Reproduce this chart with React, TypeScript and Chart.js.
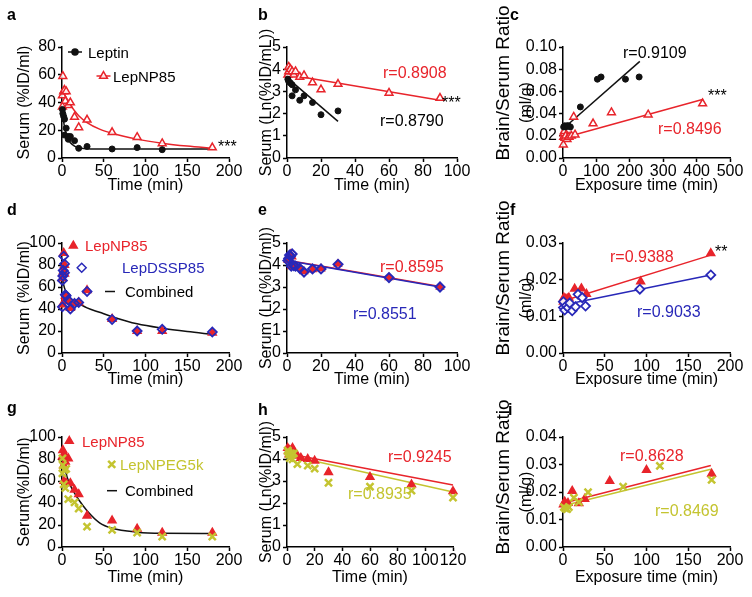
import React, { useEffect, useRef } from 'react';
import { Chart, registerables } from 'chart.js';
Chart.register(...registerables);

type P = [number, number];

const FONT = '"Liberation Sans", Arial, Helvetica, sans-serif';
const RED = '#e8242b';
const BLUE = '#2828b8';
const YEL = '#c4c430';
const BLK = '#111111';

// ---------- a ----------
const aLeptin: P[] = [[0.5,35],[1,32],[2,30],[3,28],[3,16.5],[5,21.5],[7.5,15.5],[7.5,13.5],[10,15.5],[15,12.5],[20,7],[30,8.3],[60,6.5],[90,7.5],[120,6]];
const aLepNP85: P[] = [[0.5,45],[1,59],[0.5,37],[2,48],[3,49],[4,41],[5,48],[7.5,38],[10,40],[15,29.5],[20,22],[30,27.5],[60,18.5],[90,15],[120,10.5],[180,7.5]];
const aLeptinFit: P[] = [[0,36],[1,30.5],[2,26],[3,22.5],[4,19.5],[6,15.5],[8,12.8],[10,11],[15,8.6],[20,7.4],[30,6.7],[45,6.5],[60,6.4],[120,6.4],[180,6.4]];
const aLepNP85Fit: P[] = [[0,50],[2,47],[5,43.5],[10,38.5],[15,34],[20,30.5],[30,25.5],[45,20.8],[60,17.8],[90,13.6],[120,10.7],[150,8.6],[180,7]];

// ---------- b ----------
const bLeptin: P[] = [[0.5,3.55],[1,3.45],[2,3.38],[3,3.3],[3,2.8],[5,3.07],[7.5,2.6],[10,2.8],[15,2.5],[20,1.95],[30,2.12]];
const bLepNP85: P[] = [[0.5,3.75],[1,4.1],[1,3.9],[2,4.0],[3,3.9],[4,3.75],[5,3.9],[7.5,3.65],[10,3.72],[15,3.4],[20,3.08],[30,3.33],[60,2.93],[90,2.7]];
const bLeptinFit: P[] = [[0,3.62],[30,1.65]];
const bLepNP85Fit: P[] = [[0,3.76],[90,2.6]];

// ---------- c ----------
const cLeptin: P[] = [[2,0.028],[5,0.029],[8,0.028],[12,0.029],[16,0.029],[22,0.028],[52,0.046],[103,0.071],[114,0.073],[187,0.071],[228,0.073]];
const cLepNP85: P[] = [[1,0.012],[2,0.019],[3,0.022],[4,0.024],[6,0.018],[8,0.020],[12,0.017],[18,0.019],[25,0.020],[32,0.037],[36,0.021],[90,0.031],[145,0.041],[255,0.039],[418,0.049]];
const cLeptinFit: P[] = [[3,0.027],[230,0.087]];
const cLepNP85Fit: P[] = [[0,0.018],[420,0.053]];

// ---------- d ----------
const dLepNP85: P[] = [[0.5,68],[0.5,44],[1,72],[1.5,74],[2,91],[3,80],[3,72],[4,52],[5,51],[7.5,47],[10,41],[15,45],[20,46],[30,57],[60,31],[90,20],[120,20],[180,18.5]];
const dLepDSSP85: P[] = [[0.5,66],[0.5,42],[1,70],[1.5,75],[2,88],[3,81],[3,73],[4,53],[5,52],[7.5,48],[10,40],[15,45],[20,46],[30,56],[60,30.5],[90,20],[120,21.5],[180,19]];
const dCombinedFit: P[] = [[0,70],[1,66],[2,62],[4,57],[6,54],[10,50],[15,47],[20,45],[30,41],[45,37],[60,33],[90,26.5],[120,22.5],[150,19.5],[180,17]];

// ---------- e ----------
const eLepNP85: P[] = [[0.5,4.22],[1,4.28],[1.5,4.42],[2,4.5],[3,4.38],[2.5,3.93],[4,3.95],[5,3.93],[7.5,3.85],[10,3.7],[15,3.8],[20,3.83],[30,4.04],[60,3.43],[90,3.0]];
const eLepDSSP85: P[] = [[0.5,4.2],[1,4.3],[1.5,4.45],[2,4.4],[3,4.5],[2.5,3.95],[4,3.97],[5,3.95],[7.5,3.85],[10,3.68],[15,3.82],[20,3.82],[30,4.03],[60,3.43],[90,3.0]];
const eLepNP85Fit: P[] = [[0,4.22],[90,3.02]];
const eLepDSSP85Fit: P[] = [[0,4.2],[90,3.0]];

// ---------- f ----------
const fLepNP85: P[] = [[0.5,0.014],[1,0.0151],[3,0.0147],[5,0.0148],[7,0.0151],[14,0.0175],[22,0.0176],[28,0.0161],[93,0.0195],[177,0.0272]];
const fLepDSSP85: P[] = [[0.5,0.0124],[0.5,0.014],[2,0.0117],[4,0.0129],[6,0.0124],[8,0.0136],[11,0.0115],[15,0.0126],[18,0.016],[23,0.0151],[27,0.0128],[92,0.0174],[177,0.0213]];
const fLepNP85Fit: P[] = [[0,0.0142],[177,0.0267]];
const fLepDSSP85Fit: P[] = [[0,0.0131],[177,0.0213]];

// ---------- g ----------
const gLepNP85: P[] = [[0.5,82],[1,88],[2,74],[3,84],[4,77.5],[2.5,60],[5,58],[7.5,80.5],[10,58],[15,52],[20,48],[30,28.5],[60,24],[90,16.5],[120,13],[180,13]];
const gLepNPEG5k: P[] = [[0.5,80.5],[1,74.5],[0.5,67],[2,57],[3,70],[4,53.5],[5,71],[7.5,43.5],[15,40.5],[20,35],[30,18.5],[60,15.5],[90,13],[120,9.5],[180,9.5]];
const gCombinedFit: P[] = [[0,86],[2,77],[4,70],[6,64],[10,56],[15,49],[20,43],[30,33],[45,22],[60,17],[90,13.5],[120,12.5],[180,12.3]];

// ---------- h ----------
const hLepNP85: P[] = [[0.5,4.5],[1,4.35],[1.5,4.2],[2,4.4],[3,4.25],[4,4.5],[5,4.35],[7.5,4.15],[10,4.05],[15,4.0],[20,3.92],[30,3.4],[60,3.18],[90,2.84],[120,2.53]];
const hLepNPEG5k: P[] = [[0.5,4.39],[1,4.31],[1.5,4.2],[2,4.04],[3,4.25],[4,3.98],[5,4.26],[7.5,3.77],[15,3.7],[20,3.56],[30,2.92],[60,2.74],[90,2.56],[120,2.25]];
const hLepNP85Fit: P[] = [[0,4.25],[120,2.82]];
const hLepNPEG5kFit: P[] = [[0,4.18],[120,2.5]];

// ---------- i ----------
const iLepNP85: P[] = [[0.5,0.0155],[2,0.0165],[4,0.015],[6,0.016],[11,0.0204],[19,0.0159],[26,0.0175],[56,0.024],[100,0.028],[178,0.0266]];
const iLepNPEG5k: P[] = [[1,0.0145],[3,0.014],[5,0.0138],[7,0.0145],[13,0.0179],[19,0.0163],[30,0.0199],[72,0.0219],[116,0.0295],[178,0.0244]];
const iLepNP85Fit: P[] = [[0,0.0159],[177,0.0296]];
const iLepNPEG5kFit: P[] = [[0,0.015],[177,0.0283]];

const pts = (d: P[]) => d.map(([x, y]) => ({ x, y }));

function sc(data: P[], style: string, color: string, fill: string, r: number, bw: number, order: number) {
  return {
    data: pts(data), showLine: false, pointStyle: style, pointRadius: r, pointHoverRadius: r,
    pointBorderColor: color, pointBackgroundColor: fill, pointBorderWidth: bw,
    borderColor: color, backgroundColor: fill, order, clip: false,
  };
}
function ln(data: P[], color: string, order: number, w = 1.5) {
  return {
    data: pts(data), showLine: true, pointRadius: 0, pointHoverRadius: 0, borderColor: color,
    borderWidth: w, fill: false, cubicInterpolationMode: 'monotone', order, clip: false,
  };
}

type Txt = { t: string; x: number; y: number; c: string; f?: string };
type Leg = { kind: string; mx: number; my: number; c: string; fill?: string; t: string; tx: number; ty: number; tc: string };

interface Spec {
  cell: { x: number; y: number; w: number; h: number };
  plot: { L: number; T: number; R: number; B: number };
  xMax: number; xStep: number; yMax: number; yStep: number; yDec: number;
  xTitle: string; xTitlePad: number;
  yTitle?: string; yTitlePad?: number;
  yTitle2?: { l1: string; l2: string; x1: number; y1: number; x2: number; y2: number };
  datasets: any[];
  texts: Txt[];
  legend: Leg[];
  letter: { t: string; x: number; y: number };
}

function drawMarker(ctx: CanvasRenderingContext2D, kind: string, x: number, y: number, r: number) {
  ctx.beginPath();
  if (kind === 'circle') {
    ctx.arc(x, y, r, 0, Math.PI * 2);
  } else if (kind === 'triangle') {
    for (let k = 0; k < 3; k++) {
      const a = (k * 2 * Math.PI) / 3;
      const px = x + Math.sin(a) * r, py = y - Math.cos(a) * r;
      if (k === 0) ctx.moveTo(px, py); else ctx.lineTo(px, py);
    }
    ctx.closePath();
  } else if (kind === 'rectRot') {
    ctx.moveTo(x - r, y); ctx.lineTo(x, y - r); ctx.lineTo(x + r, y); ctx.lineTo(x, y + r); ctx.closePath();
  } else if (kind === 'crossRot') {
    const d = r * Math.SQRT1_2;
    ctx.moveTo(x - d, y - d); ctx.lineTo(x + d, y + d);
    ctx.moveTo(x + d, y - d); ctx.lineTo(x - d, y + d);
  }
}

function makeAnnot(s: Spec) {
  return {
    id: 'annot' + s.letter.t,
    afterDraw(chart: any) {
      const ctx: CanvasRenderingContext2D = chart.ctx;
      const ox = s.cell.x, oy = s.cell.y;
      ctx.save();
      ctx.textBaseline = 'alphabetic';
      ctx.textAlign = 'left';
      ctx.fillStyle = '#000';
      ctx.font = `bold 16px ${FONT}`;
      ctx.fillText(s.letter.t, s.letter.x - ox, s.letter.y - oy);
      for (const t of s.texts) {
        ctx.fillStyle = t.c;
        ctx.font = t.f || `16px ${FONT}`;
        ctx.fillText(t.t, t.x - ox, t.y - oy);
      }
      for (const l of s.legend) {
        const mx = l.mx - ox, my = l.my - oy;
        ctx.strokeStyle = l.c;
        ctx.lineWidth = 1.5;
        if (l.kind === 'line' || l.kind.endsWith('+line')) {
          ctx.beginPath();
          const half = l.kind === 'line' ? 5 : 7;
          ctx.moveTo(mx - half, my); ctx.lineTo(mx + half, my); ctx.stroke();
        }
        const k = l.kind.replace('+line', '');
        if (k !== 'line') {
          const r = k === 'circle' ? 3 : k === 'crossRot' ? 5 : 4.5;
          ctx.lineWidth = k === 'crossRot' ? 2.5 : 1.5;
          drawMarker(ctx, k, mx, my, r);
          if (k !== 'crossRot' && l.fill) { ctx.fillStyle = l.fill; ctx.fill(); }
          ctx.stroke();
        }
        ctx.fillStyle = l.tc;
        ctx.font = `15px ${FONT}`;
        ctx.fillText(l.t, l.tx - ox, l.ty - oy);
      }
      if (s.yTitle2) {
        const y2 = s.yTitle2;
        ctx.fillStyle = '#000';
        ctx.textAlign = 'center';
        ctx.textBaseline = 'middle';
        ctx.save();
        ctx.translate(y2.x1 - ox, y2.y1 - oy);
        ctx.rotate(-Math.PI / 2);
        ctx.font = `19px ${FONT}`;
        ctx.fillText(y2.l1, 0, 0);
        ctx.restore();
        ctx.save();
        ctx.translate(y2.x2 - ox, y2.y2 - oy);
        ctx.rotate(-Math.PI / 2);
        ctx.font = `16px ${FONT}`;
        ctx.fillText(y2.l2, 0, 0);
        ctx.restore();
      }
      ctx.restore();
    },
  };
}

function buildConfig(s: Spec): any {
  const tickFont = { family: FONT, size: 16 };
  const titleFont = { family: FONT, size: 16 };
  const axisCommon = {
    type: 'linear',
    min: 0,
    grid: { display: true, drawOnChartArea: false, drawTicks: true, tickLength: 4, tickWidth: 1.5, tickColor: '#000' },
    border: { display: true, color: '#000', width: 1.5 },
  };
  return {
    type: 'scatter',
    data: { datasets: s.datasets },
    options: {
      animation: false,
      responsive: false,
      devicePixelRatio: 1,
      events: [],
      layout: {
        padding: {
          top: s.plot.T - s.cell.y,
          right: s.cell.x + s.cell.w - s.plot.R,
          left: 0,
          bottom: 0,
        },
      },
      plugins: { legend: { display: false }, tooltip: { enabled: false }, title: { display: false } },
      scales: {
        x: {
          ...axisCommon,
          max: s.xMax,
          ticks: { stepSize: s.xStep, font: tickFont, color: '#000', padding: 0, maxRotation: 0, autoSkip: false },
          title: { display: true, text: s.xTitle, font: titleFont, color: '#000', padding: { top: 0, bottom: s.xTitlePad } },
          afterFit: (sc: any) => { sc.height = s.cell.y + s.cell.h - s.plot.B; },
        },
        y: {
          ...axisCommon,
          max: s.yMax,
          ticks: {
            stepSize: s.yStep, font: tickFont, color: '#000', padding: 2, autoSkip: false,
            callback: (v: number) => Number(v).toFixed(s.yDec),
          },
          title: s.yTitle
            ? { display: true, text: s.yTitle, font: titleFont, color: '#000', padding: { top: s.yTitlePad, bottom: 0 } }
            : { display: false },
          afterFit: (sc: any) => { sc.width = s.plot.L - s.cell.x; },
        },
      },
    },
    plugins: [makeAnnot(s)],
  };
}

const COLS = [{ x: 0, w: 252 }, { x: 248, w: 254 }, { x: 488, w: 264 }];
const ROWS = [{ y: 0, h: 200 }, { y: 190, h: 208 }, { y: 388, h: 209 }];
const cell = (c: number, r: number) => ({ x: COLS[c].x, y: ROWS[r].y, w: COLS[c].w, h: ROWS[r].h });
const XPAD = [4.4, 8.4, 9.9];
const YPAD = [15.4, 9.4];
const RT = [47, 243, 437];
const RB = [158, 353, 547];

const hollowTri = (d: P[], o: number) => sc(d, 'triangle', RED, 'rgba(255,255,255,0.85)', 4.5, 1.5, o);
const fillTri = (d: P[], o: number, r = 4.5) => sc(d, 'triangle', RED, RED, r, 1.5, o);
const blackDot = (d: P[], o: number) => sc(d, 'circle', BLK, BLK, 3, 1, o);
const blueDia = (d: P[], o: number, fill = 'rgba(0,0,0,0)', bw = 1.8) => sc(d, 'rectRot', BLUE, fill, 4.5, bw, o);
const yelX = (d: P[], o: number) => sc(d, 'crossRot', YEL, YEL, 5, 2.5, o);

const TITLE2 = (r: number) => ({ l1: 'Brain/Serum Ratio', l2: '(ml/g)', x1: 504, y1: [83, 278, 477][r], x2: 527, y2: (RT[r] + RB[r]) / 2 });

const specs: Spec[] = [
  {
    cell: cell(0, 0), plot: { L: 62, T: RT[0], R: 229, B: RB[0] },
    xMax: 200, xStep: 50, yMax: 80, yStep: 20, yDec: 0,
    xTitle: 'Time (min)', xTitlePad: XPAD[0], yTitle: 'Serum (%ID/ml)', yTitlePad: YPAD[0],
    datasets: [blackDot(aLeptin, 0), hollowTri(aLepNP85, 1), ln(aLeptinFit, BLK, 3), ln(aLepNP85Fit, RED, 2)],
    texts: [{ t: '***', x: 218, y: 152, c: '#000' }],
    legend: [
      { kind: 'circle+line', mx: 75, my: 52, c: BLK, fill: BLK, t: 'Leptin', tx: 88, ty: 57.5, tc: '#000' },
      { kind: 'triangle+line', mx: 103.5, my: 76, c: RED, fill: 'rgba(255,255,255,0.85)', t: 'LepNP85', tx: 113, ty: 81.5, tc: '#000' },
    ],
    letter: { t: 'a', x: 7, y: 20 },
  },
  {
    cell: cell(1, 0), plot: { L: 287, T: RT[0], R: 457, B: RB[0] },
    xMax: 100, xStep: 20, yMax: 5, yStep: 1, yDec: 0,
    xTitle: 'Time (min)', xTitlePad: XPAD[0], yTitle: 'Serum (Ln(%ID/mL))', yTitlePad: YPAD[1],
    datasets: [blackDot(bLeptin, 0), hollowTri(bLepNP85, 1), ln(bLeptinFit, BLK, 3), ln(bLepNP85Fit, RED, 2)],
    texts: [
      { t: 'r=0.8908', x: 383, y: 77.7, c: RED },
      { t: '***', x: 442, y: 108, c: '#000' },
      { t: 'r=0.8790', x: 380, y: 125.7, c: '#000' },
    ],
    legend: [],
    letter: { t: 'b', x: 258, y: 20 },
  },
  {
    cell: cell(2, 0), plot: { L: 563, T: RT[0], R: 730, B: RB[0] },
    xMax: 500, xStep: 100, yMax: 0.1, yStep: 0.02, yDec: 2,
    xTitle: 'Exposure time (min)', xTitlePad: XPAD[0], yTitle2: TITLE2(0),
    datasets: [blackDot(cLeptin, 0), hollowTri(cLepNP85, 1), ln(cLeptinFit, BLK, 3), ln(cLepNP85Fit, RED, 2)],
    texts: [
      { t: 'r=0.9109', x: 623, y: 57.7, c: '#000' },
      { t: '***', x: 708, y: 101, c: '#000' },
      { t: 'r=0.8496', x: 658, y: 133.7, c: RED },
    ],
    legend: [],
    letter: { t: 'c', x: 510, y: 20 },
  },
  {
    cell: cell(0, 1), plot: { L: 62, T: RT[1], R: 229, B: RB[1] },
    xMax: 200, xStep: 50, yMax: 100, yStep: 20, yDec: 0,
    xTitle: 'Time (min)', xTitlePad: XPAD[1], yTitle: 'Serum (%ID/ml)', yTitlePad: YPAD[0],
    datasets: [blueDia(dLepDSSP85, 0), fillTri(dLepNP85, 1), ln(dCombinedFit, BLK, 2)],
    texts: [],
    legend: [
      { kind: 'triangle', mx: 73.3, my: 245.7, c: RED, fill: RED, t: 'LepNP85', tx: 85, ty: 250.7, tc: RED },
      { kind: 'rectRot', mx: 81.7, my: 267.7, c: BLUE, fill: '#fff', t: 'LepDSSP85', tx: 122, ty: 273, tc: BLUE },
      { kind: 'line', mx: 110, my: 291.5, c: BLK, t: 'Combined', tx: 125, ty: 297, tc: '#000' },
    ],
    letter: { t: 'd', x: 7, y: 215 },
  },
  {
    cell: cell(1, 1), plot: { L: 287, T: RT[1], R: 457, B: RB[1] },
    xMax: 100, xStep: 20, yMax: 5, yStep: 1, yDec: 0,
    xTitle: 'Time (min)', xTitlePad: XPAD[1], yTitle: 'Serum (Ln(%ID/ml))', yTitlePad: YPAD[1],
    datasets: [blueDia(eLepDSSP85, 0, 'rgba(0,0,0,0)', 2), fillTri(eLepNP85, 1, 4), ln(eLepDSSP85Fit, BLUE, 2), ln(eLepNP85Fit, RED, 3)],
    texts: [
      { t: 'r=0.8595', x: 380, y: 272.4, c: RED },
      { t: 'r=0.8551', x: 353, y: 318.7, c: BLUE },
    ],
    legend: [],
    letter: { t: 'e', x: 258, y: 215 },
  },
  {
    cell: cell(2, 1), plot: { L: 563, T: RT[1], R: 730, B: RB[1] },
    xMax: 200, xStep: 50, yMax: 0.03, yStep: 0.01, yDec: 2,
    xTitle: 'Exposure time (min)', xTitlePad: XPAD[1], yTitle2: TITLE2(1),
    datasets: [blueDia(fLepDSSP85, 0, 'rgba(255,255,255,0.9)'), fillTri(fLepNP85, 1), ln(fLepDSSP85Fit, BLUE, 2), ln(fLepNP85Fit, RED, 3)],
    texts: [
      { t: 'r=0.9388', x: 610, y: 262.4, c: RED },
      { t: '**', x: 715, y: 256.7, c: '#000' },
      { t: 'r=0.9033', x: 637, y: 316.7, c: BLUE },
    ],
    legend: [],
    letter: { t: 'f', x: 510, y: 215 },
  },
  {
    cell: cell(0, 2), plot: { L: 62, T: RT[2], R: 229, B: RB[2] },
    xMax: 200, xStep: 50, yMax: 100, yStep: 20, yDec: 0,
    xTitle: 'Time (min)', xTitlePad: XPAD[2], yTitle: 'Serum(%ID/ml)', yTitlePad: YPAD[0],
    datasets: [yelX(gLepNPEG5k, 0), fillTri(gLepNP85, 1), ln(gCombinedFit, BLK, 2)],
    texts: [],
    legend: [
      { kind: 'triangle', mx: 69.3, my: 441, c: RED, fill: RED, t: 'LepNP85', tx: 82, ty: 446.7, tc: RED },
      { kind: 'crossRot', mx: 111.7, my: 464.3, c: YEL, t: 'LepNPEG5k', tx: 120, ty: 470, tc: YEL },
      { kind: 'line', mx: 112, my: 490.7, c: BLK, t: 'Combined', tx: 125, ty: 496, tc: '#000' },
    ],
    letter: { t: 'g', x: 7, y: 413 },
  },
  {
    cell: cell(1, 2), plot: { L: 287, T: RT[2], R: 453, B: RB[2] },
    xMax: 120, xStep: 20, yMax: 5, yStep: 1, yDec: 0,
    xTitle: 'Time (min)', xTitlePad: XPAD[2], yTitle: 'Serum (Ln(%ID/ml))', yTitlePad: YPAD[1],
    datasets: [yelX(hLepNPEG5k, 0), fillTri(hLepNP85, 1), ln(hLepNPEG5kFit, YEL, 3), ln(hLepNP85Fit, RED, 2)],
    texts: [
      { t: 'r=0.9245', x: 388, y: 462.4, c: RED },
      { t: 'r=0.8935', x: 348, y: 498.7, c: YEL },
    ],
    legend: [],
    letter: { t: 'h', x: 258, y: 415 },
  },
  {
    cell: cell(2, 2), plot: { L: 563, T: RT[2], R: 730, B: RB[2] },
    xMax: 200, xStep: 50, yMax: 0.04, yStep: 0.01, yDec: 2,
    xTitle: 'Exposure time (min)', xTitlePad: XPAD[2], yTitle2: TITLE2(2),
    datasets: [yelX(iLepNPEG5k, 0), fillTri(iLepNP85, 1), ln(iLepNPEG5kFit, YEL, 3), ln(iLepNP85Fit, RED, 2)],
    texts: [
      { t: 'r=0.8628', x: 620, y: 460.7, c: RED },
      { t: 'r=0.8469', x: 655, y: 515.7, c: YEL },
    ],
    legend: [],
    letter: { t: 'i', x: 508, y: 415 },
  },
];

function Panel({ spec }: { spec: Spec }) {
  const ref = useRef<HTMLCanvasElement>(null);
  useEffect(() => {
    const chart = new Chart(ref.current as HTMLCanvasElement, buildConfig(spec));
    return () => chart.destroy();
  }, [spec]);
  const { x, y, w, h } = spec.cell;
  return (
    <div style={{ position: 'absolute', left: x, top: y, width: w, height: h }}>
      <canvas ref={ref} width={w} height={h} style={{ width: w, height: h, display: 'block' }} />
    </div>
  );
}

export default function App() {
  return (
    <div style={{ position: 'absolute', left: 0, top: 0, width: 752, height: 597, background: '#fff', overflow: 'hidden' }}>
      {specs.map((s) => (
        <Panel key={s.letter.t} spec={s} />
      ))}
    </div>
  );
}
